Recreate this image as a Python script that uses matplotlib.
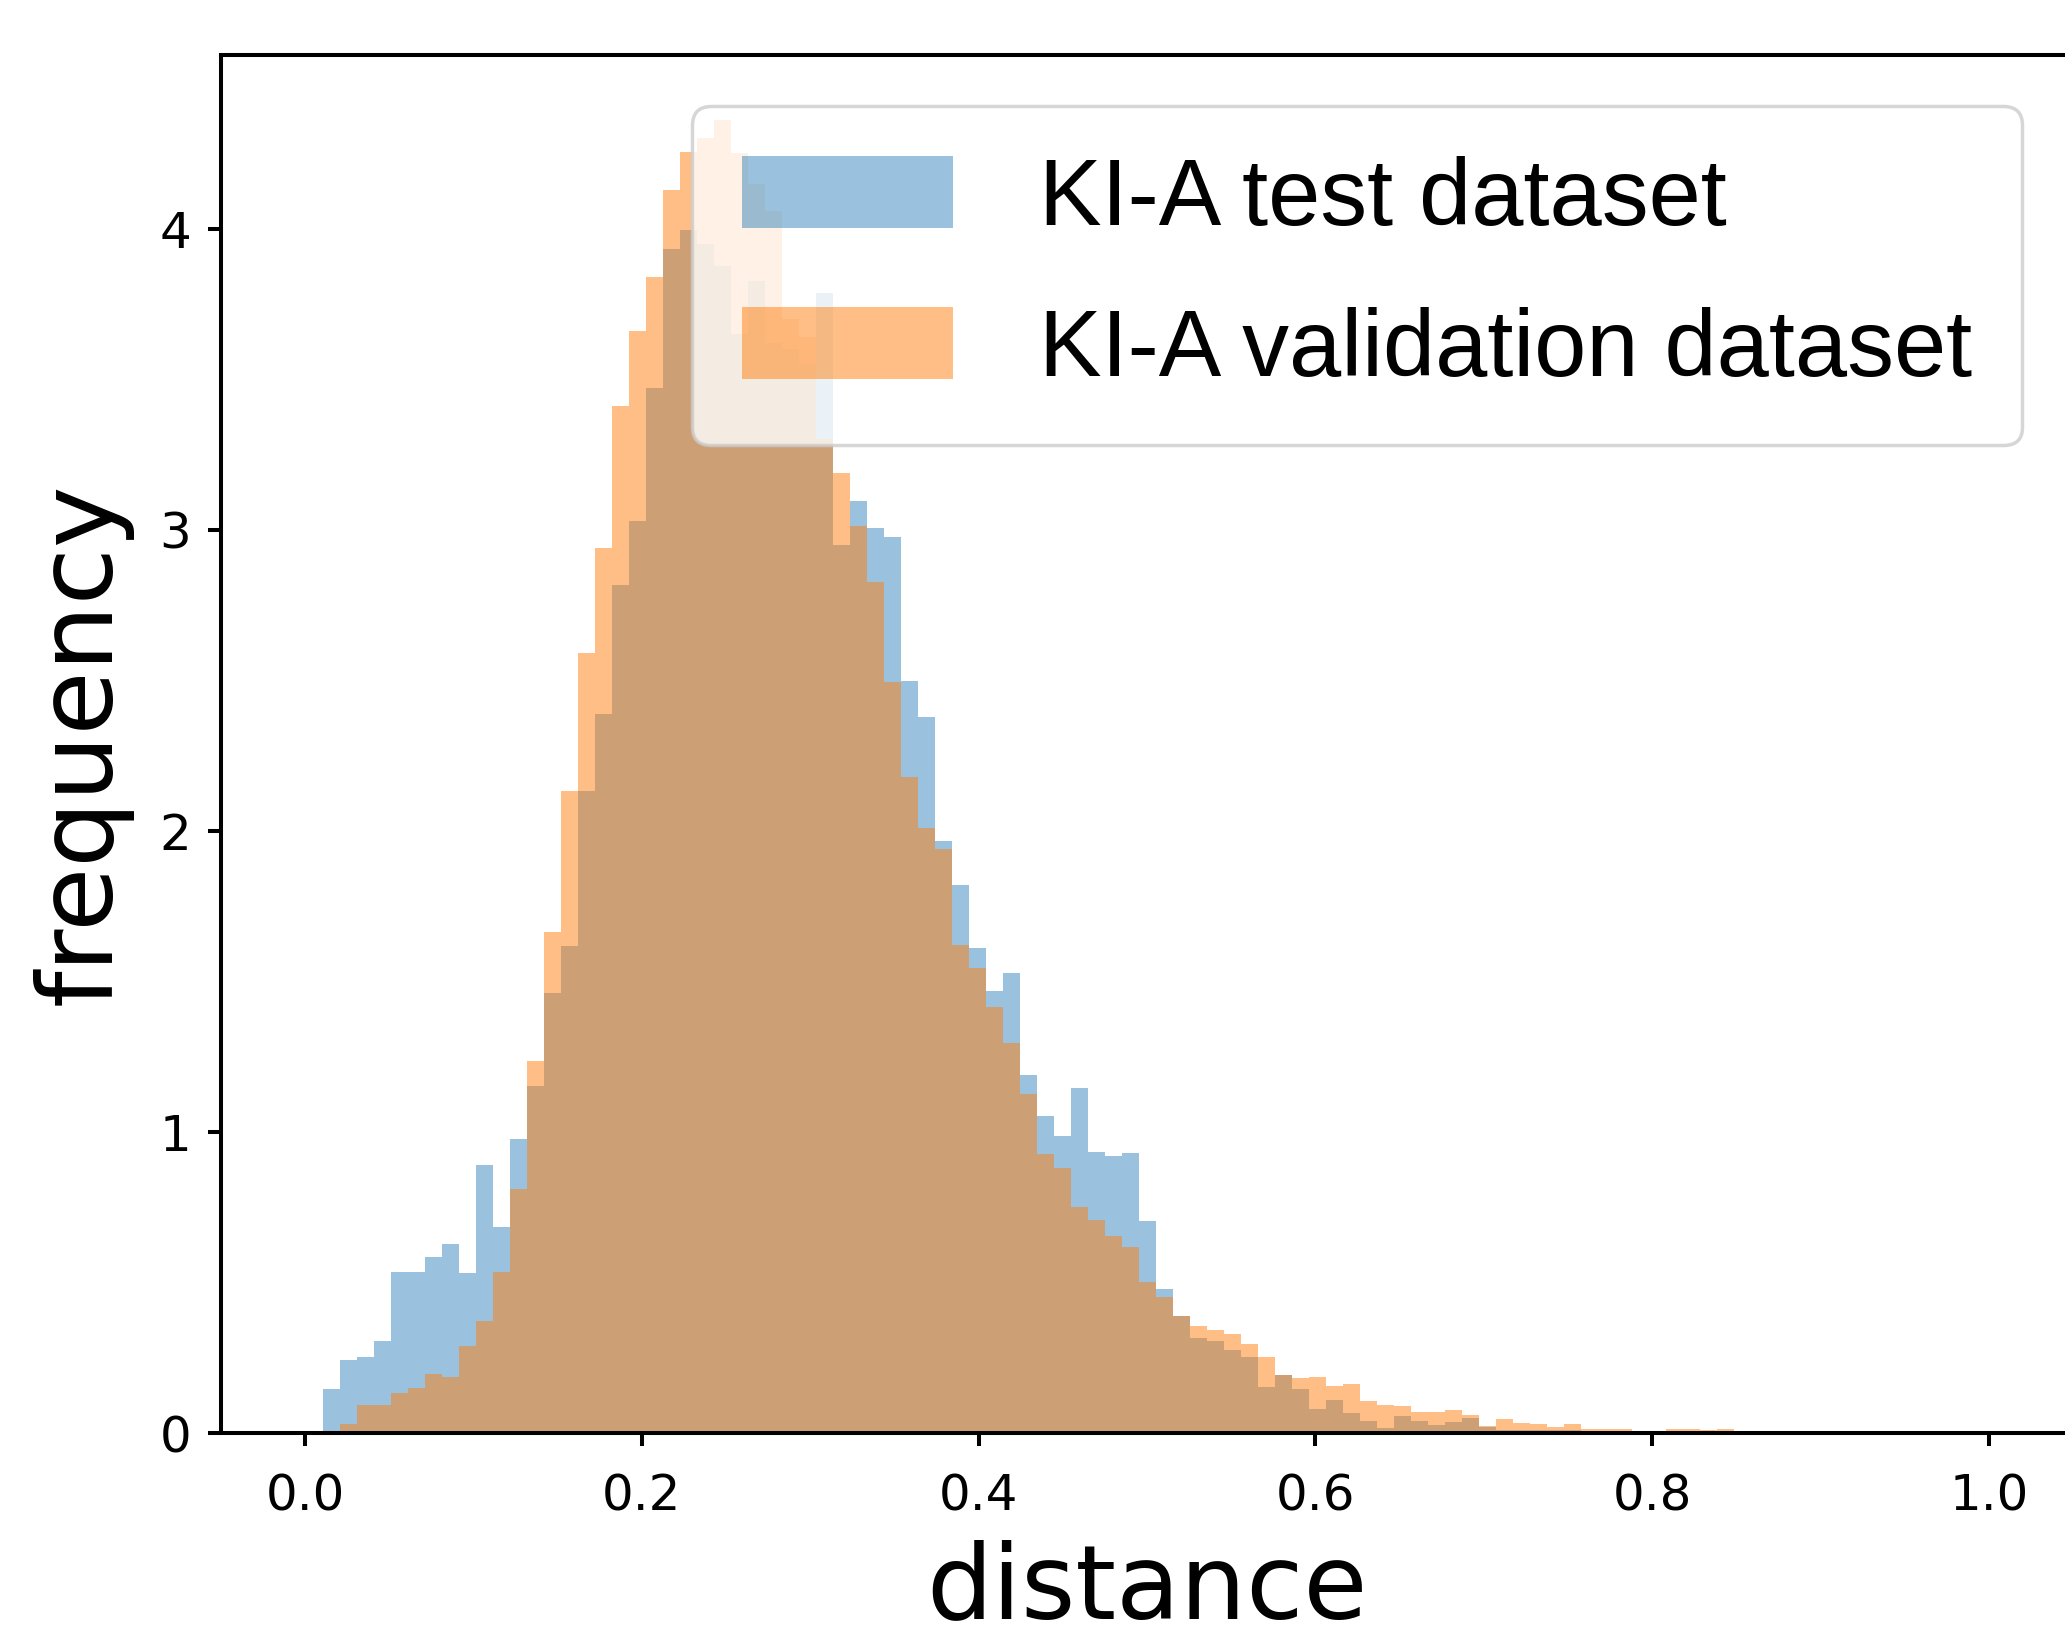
import numpy as np
import matplotlib
matplotlib.use('Agg')
import matplotlib.pyplot as plt

# === DATA (normalised histogram heights) ===
bin_start = 0.01046
bin_width = 0.0101

test_freq = [0.145, 0.243, 0.251, 0.306, 0.535, 0.535, 0.584, 0.628, 0.531, 0.890,
             0.685, 0.978, 1.153, 1.460, 1.619, 2.134, 2.388, 2.818, 3.028, 3.471,
             3.933, 3.997, 3.950, 3.875, 3.650, 3.825, 3.620, 3.600, 3.550, 3.786,
             2.950, 3.097, 3.006, 2.977, 2.497, 2.378, 1.967, 1.820, 1.612, 1.468,
             1.527, 1.189, 1.054, 0.987, 1.147, 0.935, 0.920, 0.929, 0.704, 0.477,
             0.390, 0.315, 0.307, 0.276, 0.254, 0.154, 0.193, 0.145, 0.079, 0.110,
             0.065, 0.041, 0.018, 0.057, 0.041, 0.027, 0.036, 0.049, 0.020, 0.009,
             0.009, 0.009, 0.009, 0.009, 0.0, 0.0, 0.0, 0.0, 0.0, 0.0,
             0.0, 0.0, 0.0]

val_freq = [0.0, 0.030, 0.093, 0.093, 0.134, 0.151, 0.196, 0.187, 0.290, 0.373,
            0.535, 0.810, 1.236, 1.663, 2.132, 2.592, 2.939, 3.410, 3.660, 3.840,
            4.130, 4.255, 4.300, 4.360, 4.250, 4.150, 4.060, 3.700, 3.640, 3.300,
            3.190, 3.012, 2.825, 2.493, 2.180, 2.009, 1.939, 1.621, 1.546, 1.416,
            1.297, 1.126, 0.927, 0.879, 0.752, 0.708, 0.656, 0.617, 0.503, 0.451,
            0.390, 0.355, 0.342, 0.328, 0.295, 0.251, 0.193, 0.182, 0.185, 0.156,
            0.164, 0.106, 0.093, 0.091, 0.069, 0.069, 0.076, 0.060, 0.025, 0.046,
            0.032, 0.030, 0.020, 0.030, 0.015, 0.012, 0.012, 0.0, 0.0, 0.015,
            0.012, 0.009, 0.015]

labels = ['KI-A test dataset', 'KI-A validation dataset']

edges = bin_start + bin_width * np.arange(len(test_freq) + 1)
centers = 0.5 * (edges[:-1] + edges[1:])

# === PLOT ===
fig = plt.figure(figsize=(20.65, 16.37), dpi=100)
ax = fig.add_axes([0.107, 0.1246, 0.897, 0.842])

ax.hist(centers, bins=edges, weights=test_freq, alpha=0.45, color='tab:blue', label=labels[0])
ax.hist(centers, bins=edges, weights=val_freq, alpha=0.5, color='tab:orange', label=labels[1])

ax.set_xlim(-0.05, 1.05)
ax.set_ylim(0, 4.578)
ax.set_xticks([0.0, 0.2, 0.4, 0.6, 0.8, 1.0])
ax.set_yticks([0, 1, 2, 3, 4])

ax.set_xlabel('distance', fontsize=75, labelpad=13)
ax.set_ylabel('frequency', fontsize=75, labelpad=19)
ax.tick_params(labelsize=36, length=9.5, width=2.9)
ax.tick_params(axis='x', pad=19)
ax.tick_params(axis='y', pad=12)
for sp in ax.spines.values():
    sp.set_linewidth(2.9)

leg = ax.legend(loc='upper right', prop={'family': 'Liberation Sans', 'size': 67.5},
                handlelength=2.25, handleheight=0.8, handletextpad=0.92,
                labelspacing=0.66, borderpad=0.53, borderaxespad=0.55)
leg.get_frame().set_linewidth(2.5)

plt.savefig('out.png', dpi=100)
